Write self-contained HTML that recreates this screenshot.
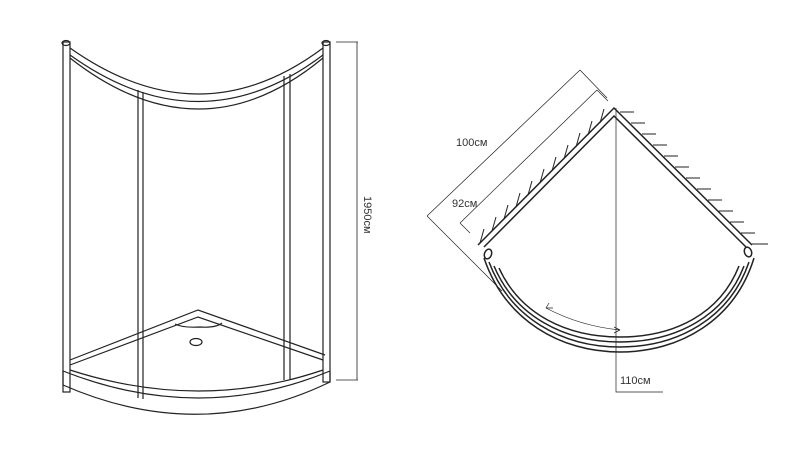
<!DOCTYPE html>
<html><head><style>body{margin:0;background:#fff}svg{display:block}text{font-family:"Liberation Sans",sans-serif;font-size:11px;fill:#333;stroke:none}</style></head><body>
<svg width="800" height="451" viewBox="0 0 800 451" fill="none" stroke="#222" stroke-width="1.2">
<!-- left drawing -->
<rect x="63" y="42" width="7" height="350"/>
<rect x="323" y="42" width="7" height="340"/>
<ellipse cx="66" cy="43" rx="4" ry="2.5"/><ellipse cx="326" cy="43" rx="4" ry="2.5"/>
<path d="M70 48 Q200 140 323 48"/>
<path d="M70 55 Q200 148 323 55"/>
<path d="M70 58 Q200 160 323 58"/>
<path d="M138 90 V398 M143 92 V399"/>
<path d="M284 76 V380 M290 74 V380"/>
<path d="M70 360 L198 310 L325 355"/>
<path d="M70 365 L198 317 L323 360"/>
<path d="M175 324 Q183 328 200 327 Q216 328 222 323"/>
<ellipse cx="196" cy="342" rx="6" ry="3.5"/>
<path d="M63 371 Q200 425 330 371 M63 385 Q200 445 330 382 M63 371 V385 M330 371 V382"/>
<path d="M70 370 Q200 412 323 370"/>
<path d="M336 42 H358 M336 380 H358 M357 42 V380" stroke-width="0.8"/>
<text x="0" y="0" transform="translate(364 196) rotate(90)">1950см</text>
<!-- right drawing -->
<g stroke-width="1.5">
<path d="M478 245 L614 108 L752 245"/>
<path d="M484 247 L614 116 L746 247"/>
<path d="M484 258 C505 320 560 352 620 352 C680 352 735 320 754 258"/>
<path d="M489 262 C510 318 562 347 620 347 C678 347 730 318 749 262"/>
<path d="M494 266 C515 316 564 342 620 342 C676 342 725 316 744 266"/>
<path d="M499 268 C520 314 566 337 620 337 C674 337 720 314 739 266"/>
<ellipse cx="488" cy="254" rx="3.5" ry="5" transform="rotate(20 488 254)"/>
<ellipse cx="748" cy="252" rx="3.5" ry="5" transform="rotate(-20 748 252)"/>
</g>
<g stroke-width="1">
<path d="M480 243 l4 -14 M492 231 l4 -14 M504 219 l4 -14 M516 207 l4 -14 M528 195 l4 -14 M540 183 l4 -14 M552 171 l4 -14 M564 159 l4 -14 M576 147 l4 -14 M588 135 l4 -14 M600 123 l4 -14"/>
<path d="M620 112 h14 M631 123 h14 M642 134 h14 M653 145 h14 M664 156 h14 M675 167 h14 M686 178 h14 M697 189 h14 M708 200 h14 M719 211 h14 M730 222 h14 M741 233 h14 M752 244 h16"/>
</g>
<g stroke-width="0.7">
<path d="M427 216 L580 70 M427 216 L502 291 M580 70 L607 98"/>
<path d="M460 223 L597 90 M460 223 L470 233 M597 90 L608 101"/>
<path d="M616 108 V392 H663"/>
<path d="M546 308 Q580 326 620 330"/>
<path d="M546 308 l7 0 M546 308 l3 -5 M620 330 l-6 -3 M620 330 l-6 3"/>
</g>
<text x="456" y="146">100см</text>
<text x="452" y="207">92см</text>
<text x="620" y="384">110см</text>
</svg>
</body></html>
